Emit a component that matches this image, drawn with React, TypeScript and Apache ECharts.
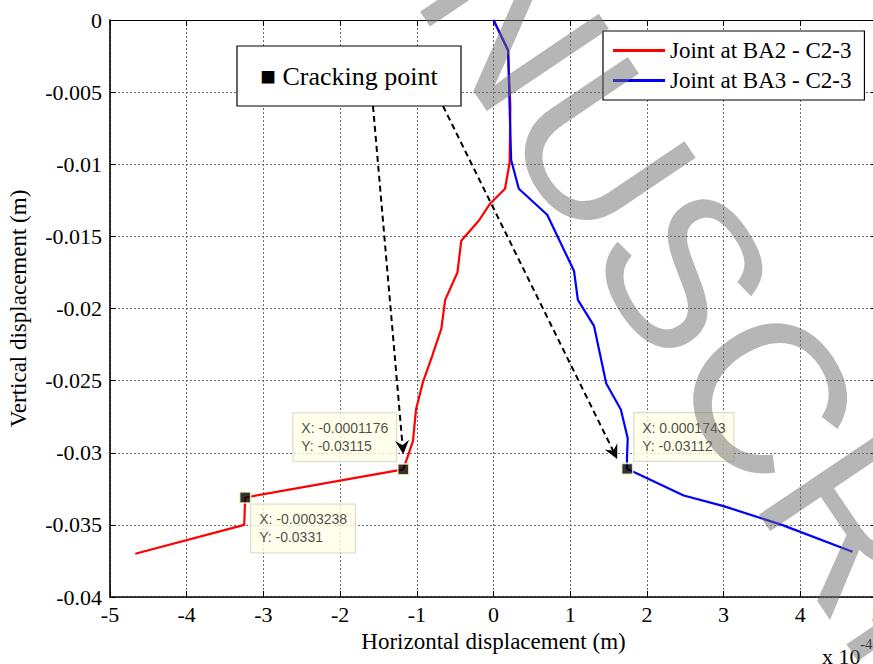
import React, { useEffect, useRef } from 'react';
import * as echarts from 'echarts';

// Horizontal values are in units of 1e-4 m (axis multiplier "x 10^-4")
const X_SCALE = 1e4;

const seriesNames = ['Joint at BA2 - C2-3', 'Joint at BA3 - C2-3'];

const redX = [0, 0.19, 0.22, 0.21, 0.15, -0.04, -0.19, -0.42, -0.47, -0.63, -0.68, -0.8, -0.92, -1.01, -1.05, -1.176, -3.238, -3.25, -4.67];
const redY = [0, -0.0021, -0.006, -0.0099, -0.0117, -0.0127, -0.0139, -0.0153, -0.0175, -0.0194, -0.0214, -0.0233, -0.0251, -0.027, -0.0292, -0.03115, -0.0331, -0.035, -0.037];

const blueX = [0, 0.19, 0.21, 0.23, 0.33, 0.7, 1.05, 1.1, 1.31, 1.47, 1.66, 1.75, 1.74, 1.743, 1.83, 2.48, 3.0, 3.76, 4.68];
const blueY = [0, -0.0021, -0.006, -0.0097, -0.0117, -0.0135, -0.0174, -0.0194, -0.0212, -0.0252, -0.027, -0.029, -0.0304, -0.03112, -0.03134, -0.03296, -0.0337, -0.035, -0.03686];

// Data tips (raw metres)
const crackX = [-0.0001176, -0.0003238, 0.0001743];
const crackY = [-0.03115, -0.0331, -0.03112];

const xTickLabels = ['-5', '-4', '-3', '-2', '-1', '0', '1', '2', '3', '4', '5'];
const yTickLabels = ['0', '-0.005', '-0.01', '-0.015', '-0.02', '-0.025', '-0.03', '-0.035', '-0.04'];

const SERIF = 'Liberation Serif';
const SANS = 'Liberation Sans';

// layout of data-tip boxes relative to their marker (pixels)
const tipOffsets = [[-110, -32], [6, 31], [7, -32]];

export default function App() {
  const ref = useRef<HTMLDivElement>(null);

  useEffect(() => {
    if (!ref.current) return;
    const chart = echarts.init(ref.current, null, { renderer: 'svg' });

    const pair = (xs: number[], ys: number[]) => xs.map((x, i) => [x, ys[i]]);

    const gridLine = { show: true, lineStyle: { color: '#6a6a6a', type: [2, 2] as any, width: 1 } };
    const serifText = (size: number) => ({ fontFamily: SERIF, fontSize: size, color: '#000', fontWeight: 'normal' as const });

    chart.setOption({
      animation: false,
      backgroundColor: '#ffffff',
      textStyle: { fontFamily: SERIF, color: '#000' },
      grid: { left: 110, top: 20, width: 767, height: 577, containLabel: false, outerBoundsMode: 'none' },
      legend: {
        data: seriesNames,
        left: 603,
        top: 31,
        orient: 'vertical',
        icon: 'rect',
        itemWidth: 52,
        itemHeight: 3,
        itemGap: 7,
        padding: [8, 13, 8, 10],
        backgroundColor: '#ffffff',
        borderColor: '#000000',
        borderWidth: 1.2,
        borderRadius: 0,
        textStyle: serifText(23),
      },
      xAxis: [
        {
          type: 'value',
          position: 'bottom',
          min: -5,
          max: 5,
          interval: 1,
          axisLine: { onZero: false, lineStyle: { color: '#000', width: 1.6 } },
          axisTick: { inside: true, length: 6, lineStyle: { color: '#000' } },
          axisLabel: {
            margin: 6,
            ...serifText(22),
            formatter: (v: number) => xTickLabels[Math.round(v) + 5],
          },
          splitLine: gridLine,
          name: 'Horizontal displacement (m)',
          nameLocation: 'middle',
          nameGap: 32,
          nameTextStyle: serifText(23),
        },
        {
          type: 'value',
          position: 'top',
          min: -5,
          max: 5,
          interval: 1,
          axisLine: { onZero: false, lineStyle: { color: '#000', width: 1.2 } },
          axisTick: { inside: true, length: 6, lineStyle: { color: '#000' } },
          axisLabel: { show: false },
          splitLine: { show: false },
        },
      ],
      yAxis: [
        {
          type: 'value',
          position: 'left',
          min: -0.04,
          max: 0,
          interval: 0.005,
          axisLine: { onZero: false, lineStyle: { color: '#000', width: 1.6 } },
          axisTick: { inside: true, length: 6, lineStyle: { color: '#000' } },
          axisLabel: {
            margin: 8,
            ...serifText(22),
            formatter: (v: number) => yTickLabels[Math.round(-v / 0.005)],
          },
          splitLine: gridLine,
          name: 'Vertical displacement (m)',
          nameLocation: 'middle',
          nameGap: 80,
          nameTextStyle: serifText(23),
        },
        {
          type: 'value',
          position: 'right',
          min: -0.04,
          max: 0,
          interval: 0.005,
          axisLine: { onZero: false, lineStyle: { color: '#000', width: 1.2 } },
          axisTick: { inside: true, length: 6, lineStyle: { color: '#000' } },
          axisLabel: { show: false },
          splitLine: { show: false },
        },
      ],
      series: [
        {
          name: seriesNames[0],
          type: 'line',
          data: pair(redX, redY),
          showSymbol: false,
          symbol: 'none',
          color: '#ff0000',
          lineStyle: { color: '#ff0000', width: 2.2 },
          z: 2,
        },
        {
          name: seriesNames[1],
          type: 'line',
          data: pair(blueX, blueY),
          showSymbol: false,
          symbol: 'none',
          color: '#0000ff',
          lineStyle: { color: '#0000ff', width: 2.2 },
          z: 3,
        },
        {
          type: 'scatter',
          symbol: 'rect',
          symbolSize: 11,
          z: 5,
          itemStyle: { color: '#000', borderColor: '#ffffcc', borderWidth: 1.6 },
          data: crackX.map((x, i) => ({
            value: [x * X_SCALE, crackY[i]],
            label: {
              show: true,
              position: 'inside',
              align: 'left',
              verticalAlign: 'middle',
              offset: tipOffsets[i],
              formatter: () => `X: ${crackX[i]}\nY: ${crackY[i]}`,
            },
          })),
          label: {
            fontFamily: SANS,
            fontSize: 14,
            lineHeight: 18,
            color: '#1a1a1a',
            backgroundColor: '#ffffe6',
            borderColor: '#d2d2c4',
            borderWidth: 1,
            padding: [6, 8, 6, 8],
          },
          emphasis: { disabled: true },
        },
      ],
    });

    // Annotations: "Cracking point" box with dashed arrows to the two cracking points
    const boxX = 237, boxY = 46, boxW = 224, boxH = 60;
    const starts = [[373, boxY + boxH], [443, boxY + boxH]];
    const tipShift = [[0, -15], [-10, -10]];
    const targets = [0, 2].map((k, i) => {
      const p = chart.convertToPixel({ xAxisIndex: 0, yAxisIndex: 0 }, [crackX[k] * X_SCALE, crackY[k]]) as number[];
      return [p[0] + tipShift[i][0], p[1] + tipShift[i][1]];
    });

    const arrows: any[] = [];
    targets.forEach((t, i) => {
      const s = starts[i];
      const ang = Math.atan2(t[1] - s[1], t[0] - s[0]);
      const c = Math.cos(ang), sn = Math.sin(ang);
      const loc = (a: number, b: number) => [t[0] + a * c - b * sn, t[1] + a * sn + b * c];
      const back = loc(-8, 0);
      arrows.push({
        type: 'line',
        z: 50,
        shape: { x1: s[0], y1: s[1], x2: back[0], y2: back[1] },
        style: { stroke: '#000', lineWidth: 2, lineDash: [6, 4] },
      });
      arrows.push({
        type: 'polygon',
        z: 51,
        shape: { points: [loc(0, 0), loc(-14, -7), loc(-9, 0), loc(-14, 7)] },
        style: { fill: '#000' },
      });
    });

    chart.setOption({
      graphic: [
        {
          type: 'rect',
          z: 50,
          shape: { x: boxX, y: boxY, width: boxW, height: boxH },
          style: { fill: '#fff', stroke: '#000', lineWidth: 1.2 },
        },
        {
          type: 'text',
          z: 51,
          x: boxX + boxW / 2,
          y: boxY + boxH / 2,
          style: {
            text: '■ Cracking point',
            fontFamily: SERIF,
            fontSize: 26,
            fill: '#000',
            align: 'center',
            verticalAlign: 'middle',
          },
        },
        ...arrows,
        {
          type: 'text',
          z: 51,
          x: 822,
          y: 656,
          style: { text: 'x 10', fontFamily: SERIF, fontSize: 22, fill: '#000', align: 'left', verticalAlign: 'middle' },
        },
        {
          type: 'text',
          z: 51,
          x: 860,
          y: 644,
          style: { text: '-4', fontFamily: SERIF, fontSize: 15, fill: '#000', align: 'left', verticalAlign: 'middle' },
        },
        {
          type: 'text',
          z: 100,
          x: 688,
          y: 276,
          rotation: (-56 * Math.PI) / 180,
          silent: true,
          style: {
            text: 'MANUSCRIPT',
            fontFamily: SANS,
            fontSize: 214,
            fill: 'rgba(110,110,110,0.5)',
            align: 'center',
            verticalAlign: 'middle',
          },
        },
      ],
    });

    return () => chart.dispose();
  }, []);

  return (
    <div
      ref={ref}
      style={{ position: 'fixed', left: 0, top: 0, width: 873, height: 664, background: '#fff' }}
    />
  );
}
